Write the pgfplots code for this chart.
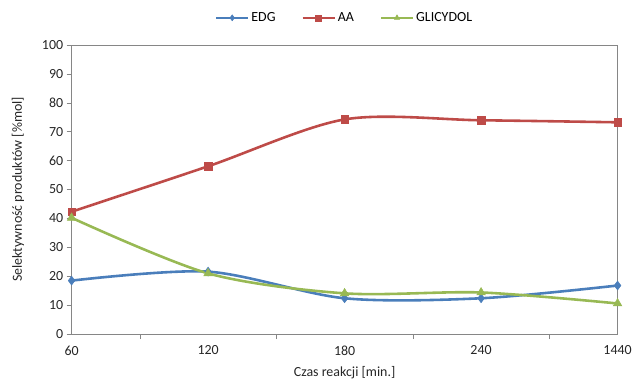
\documentclass[border=0pt]{standalone}
\usepackage{pgfplots}
\pgfplotsset{compat=1.18}
\usepackage{fontspec}
\setmainfont{Carlito}
\definecolor{cEDG}{HTML}{4A7EBB}
\definecolor{cAA}{HTML}{BE4B48}
\definecolor{cGL}{HTML}{98B954}
\definecolor{axgray}{HTML}{868686}
\begin{document}
\begin{tikzpicture}[x=1pt,y=1pt]
\path (-72,-50) rectangle (563,336);
\begin{axis}[
  at={(0,0)}, anchor=south west,
  scale only axis, width=549pt, height=291pt,
  xmin=0, xmax=4, ymin=0, ymax=100,
  xtick={0,1,2,3,4}, xticklabels={60,120,180,240,1440},
  minor xtick={0.5,1.5,2.5,3.5},
  ytick={0,10,...,100},
  major x tick style={draw=none},
  minor x tick style={draw=axgray},
  tick align=outside,
  minor tick length=5pt, major tick length=5pt,
  y tick style={draw=axgray},
  axis line style={draw=axgray},
  xtick pos=bottom, ytick pos=left,
  tick label style={font=\fontsize{14}{16}\selectfont, text=black!85},
  xticklabel style={yshift=-3pt},
  yticklabel style={xshift=0pt},
  /pgf/number format/assume math mode=true,
  xlabel={Czas reakcji [min.]},
  ylabel={Selektywność produktów [\%mol]},
  every axis x label/.style={at={(axis description cs:0.5,0)}, anchor=center, yshift=-39pt, font=\fontsize{14}{16}\selectfont, text=black!85},
  every axis y label/.style={at={(axis description cs:0,0.5)}, xshift=-54pt, anchor=center, rotate=90, font=\fontsize{14}{16}\selectfont, text=black!85},
  legend style={at={(0.5,1.093)}, anchor=center, draw=none, legend columns=-1,
    font=\fontsize{14}{16}\selectfont, inner sep=0pt, /tikz/every even column/.append style={column sep=24pt}},
  legend image code/.code={\draw[#1, mark repeat=2, mark phase=2, mark size=3pt] plot coordinates {(0pt,0pt) (16pt,0pt) (32pt,0pt)};},
  every axis plot/.append style={line width=2.6pt, smooth, tension=0.5},
]
\addplot[color=cEDG, mark=diamond*, mark size=4.5pt, mark options={line width=0.5pt}] coordinates {(0,18.5) (1,21.6) (2,12.4) (3,12.4) (4,16.8)};
\addlegendentry{EDG}
\addplot[color=cAA, mark=square*, mark size=3.8pt, mark options={line width=0.5pt}] coordinates {(0,42.3) (1,58.0) (2,74.2) (3,73.9) (4,73.2)};
\addlegendentry{AA}
\addplot[color=cGL, mark=triangle*, mark size=5pt, mark options={line width=0.5pt}] coordinates {(0,40.2) (1,21.0) (2,14.1) (3,14.4) (4,10.6)};
\addlegendentry{GLICYDOL}
\end{axis}
\end{tikzpicture}
\end{document}
